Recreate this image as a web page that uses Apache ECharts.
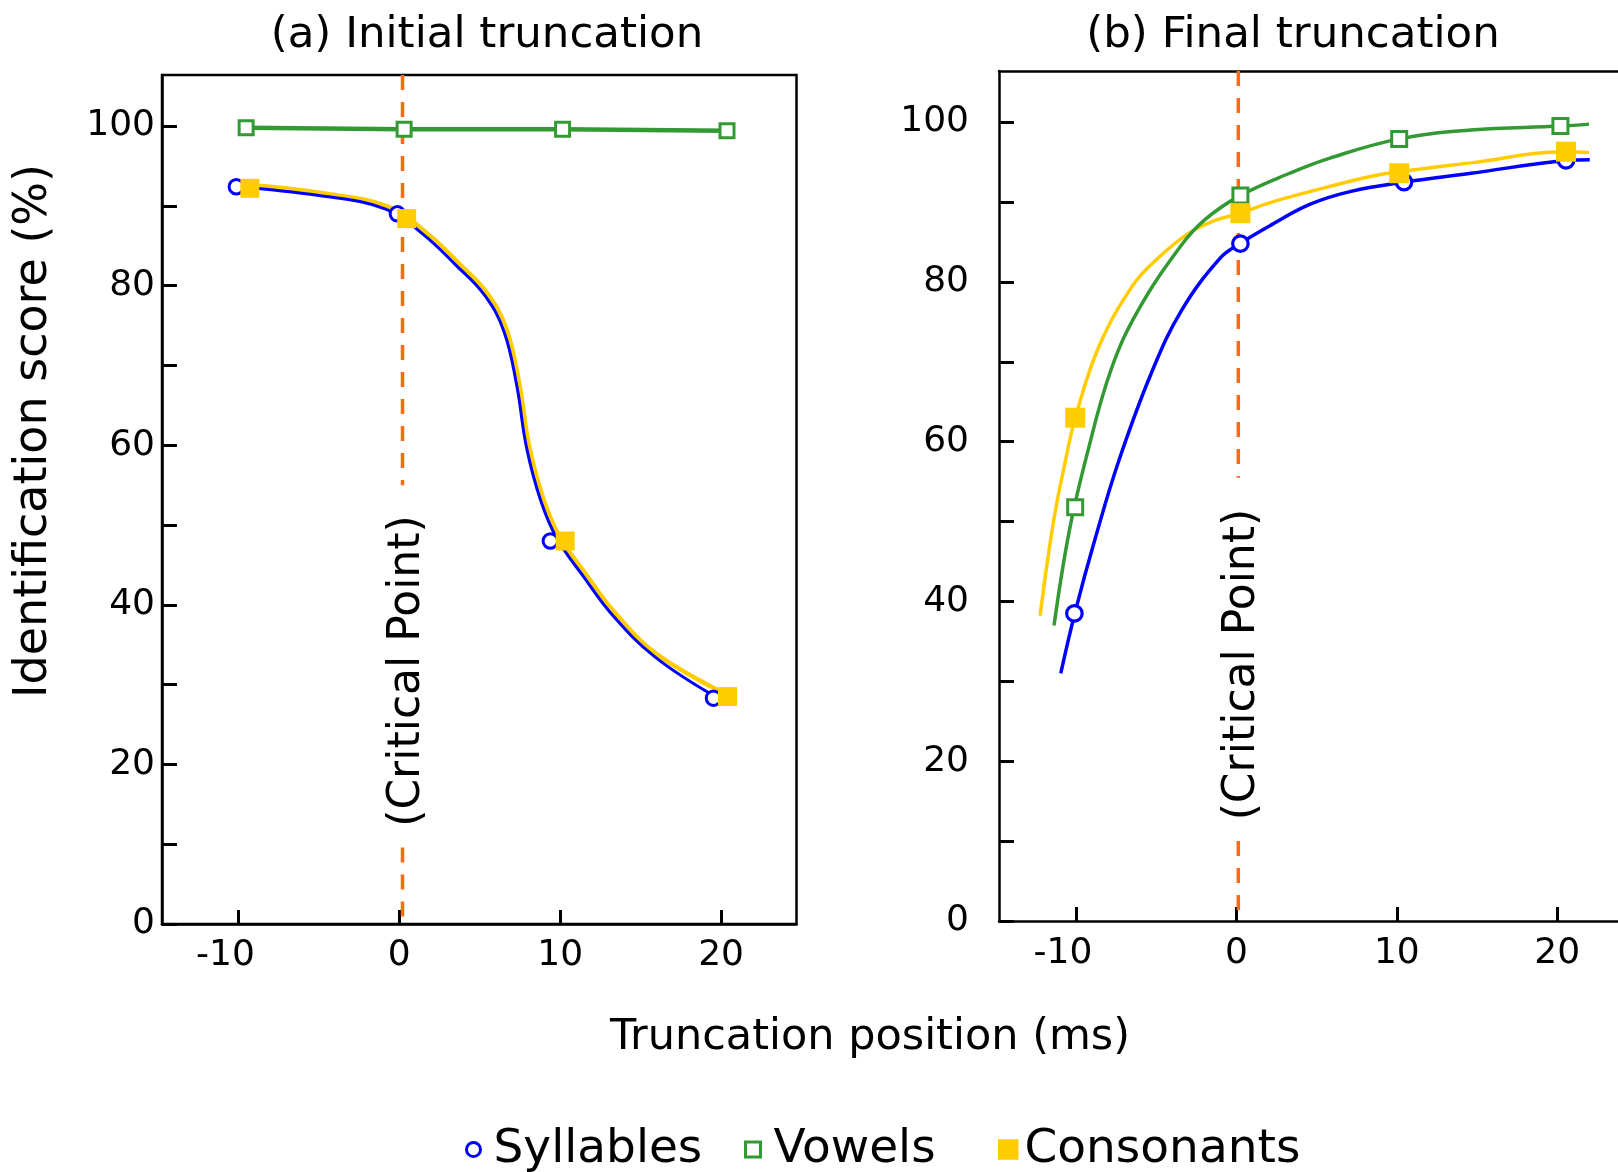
<!DOCTYPE html>
<html>
<head>
<meta charset="utf-8">
<script src="https://cdn.jsdelivr.net/npm/echarts@6/dist/echarts.min.js"></script>
<style>
  html, body { margin: 0; padding: 0; background: #fff; }
  #chart { width: 1618px; height: 1172px; }
</style>
</head>
<body>
<div id="chart"></div>
<script>
// ---- axis ticks ----
const xTicks = [-10, 0, 10, 20];
const yLabelTicks = [0, 20, 40, 60, 80, 100];
const yTicks = [0, 10, 20, 30, 40, 50, 60, 70, 80, 90, 100];

// ---- (a) Initial truncation: measured points ----
const syllAx = [-10.13, -0.12, 9.39, 19.53];
const syllAy = [92.4, 89.0, 48.0, 28.3];
const vowAx = [-9.52, 0.3, 10.15, 20.37];
const vowAy = [99.8, 99.6, 99.6, 99.4];
const consAx = [-9.29, 0.46, 10.31, 20.4];
const consAy = [92.2, 88.4, 48.0, 28.5];

// ---- (a) fitted curves ----
const syllAcurve = [[-10.13,92.4],[-5.0,91.3],[-0.85,89.6],[1.5,86.4],[3.5,82.6],[5.3,78.8],[6.5,74.3],[7.3,67.5],[7.9,59.8],[8.8,53.0],[9.8,48.3],[11.43,43.6],[13.26,38.7],[15.87,33.5],[19.55,28.6]];
const consAcurve = [[-9.29,92.6],[-4.85,91.6],[-0.7,89.9],[1.65,86.7],[3.65,82.9],[5.45,79.1],[6.65,74.6],[7.45,67.8],[8.05,60.1],[8.95,53.3],[9.95,48.6],[11.58,43.9],[13.41,39.0],[16.02,33.8],[20.4,28.7]];

// ---- (b) Final truncation: measured points ----
const syllBx = [-10.1, 0.25, 10.45, 20.55];
const syllBy = [38.5, 84.8, 92.5, 95.2];
const vowBx = [-10.05, 0.25, 10.15, 20.2];
const vowBy = [51.8, 90.8, 97.9, 99.5];
const consBx = [-10.05, 0.25, 10.15, 20.55];
const consBy = [63.0, 88.6, 93.6, 96.3];

// ---- (b) fitted curves ----
const syllBcurve = [[-10.95,31.0],[-10.05,38.7],[-8.8,47.9],[-7.3,57.8],[-5.3,68.6],[-3.4,76.5],[-1.0,83.0],[0.23,84.8],[2.06,87.0],[4.57,89.7],[7.08,91.3],[10.48,92.5],[14.62,93.6],[20.6,95.2],[22.03,95.3]];
const vowBcurve = [[-11.37,37.0],[-10.42,48.8],[-9.3,58.5],[-7.8,69.1],[-6.11,76.5],[-3.47,84.5],[-1.96,87.8],[0.23,90.8],[3.32,93.6],[5.83,95.5],[10.15,97.9],[14.62,99.0],[20.2,99.5],[21.98,99.75]];
const consBcurve = [[-12.24,38.2],[-11.42,49.8],[-10.67,57.5],[-10.0,63.3],[-8.55,72.0],[-6.48,79.5],[-4.98,82.8],[-2.97,86.1],[-1.46,87.6],[0.23,88.6],[2.06,89.9],[4.57,91.3],[8.34,93.2],[10.15,93.8],[14.62,94.9],[20.58,96.3],[21.98,96.2]];

// ---- critical point marker (x position, dashed extents, label anchor) ----
const critA = { x: 0.2, topEnd: 55.0, bottomStart: 9.6, label: [0.52, 31.7] };
const critB = { x: 0.12, topEnd: 55.5, bottomStart: 10.0, label: [0.4, 32.1] };
const critText = '(Critical Point)';

const BLUE = '#0000ff', GREEN = '#339933', YELLOW = '#ffcc00', ORANGE = '#ff6a13';
const FONT = '"DejaVu Sans", Verdana, sans-serif';
const Y_MAX = 106.4;

const zip = (xs, ys) => xs.map((x, i) => [x, ys[i]]);

function xAxisFor(grid, min, max, margin) {
  return {
    type: 'value', gridIndex: grid, min: min, max: max,
    splitLine: { show: false },
    axisLine: { show: true, onZero: false, lineStyle: { color: '#000', width: 2.5 } },
    axisTick: { show: true, inside: true, length: 14, customValues: xTicks, lineStyle: { color: '#000', width: 3 } },
    axisLabel: {
      customValues: xTicks, margin: margin, color: '#000', fontSize: 36, fontFamily: FONT,
      formatter: v => (v < 0 ? '{neg|' + v + '}' : String(v)),
      rich: { neg: { fontSize: 36, fontFamily: FONT, color: '#000', padding: [0, 26, 0, 0] } }
    }
  };
}
// plain frame edge along the top of a panel
function topEdge(grid, min, max) {
  return {
    type: 'value', gridIndex: grid, min: min, max: max, position: 'top',
    splitLine: { show: false }, axisTick: { show: false }, axisLabel: { show: false },
    axisLine: { show: true, onZero: false, lineStyle: { color: '#000', width: 2.5 } }
  };
}
function yAxisFor(grid, margin) {
  return {
    type: 'value', gridIndex: grid, min: 0, max: Y_MAX,
    splitLine: { show: false },
    axisLine: { show: true, onZero: false, lineStyle: { color: '#000', width: 2.5 } },
    axisTick: { show: true, inside: true, length: 15, customValues: yTicks, lineStyle: { color: '#000', width: 3 } },
    axisLabel: { customValues: yLabelTicks, margin: margin, color: '#000', fontSize: 36, fontFamily: FONT }
  };
}

function markers(name, idx, pts, shape, size, fill, stroke, bw) {
  return {
    name: name, type: 'scatter', xAxisIndex: idx, yAxisIndex: idx, data: pts,
    symbol: shape, symbolSize: size, z: 4, silent: true,
    itemStyle: { color: fill, borderColor: stroke, borderWidth: bw, opacity: 1 }
  };
}
function curve(name, idx, pts, color, width, z) {
  return {
    name: name, type: 'line', xAxisIndex: idx, yAxisIndex: idx, data: pts,
    symbol: 'none', showSymbol: false, smooth: 0.4, z: z, silent: true,
    lineStyle: { color: color, width: width }
  };
}
function dashed(idx, c) {
  return {
    type: 'line', xAxisIndex: idx, yAxisIndex: idx, symbol: 'none', silent: true, z: 1,
    connectNulls: false,
    data: [[c.x, Y_MAX], [c.x, c.topEnd], [c.x, '-'], [c.x, c.bottomStart], [c.x, 0]],
    lineStyle: { color: ORANGE, width: 3.5, type: [15, 12] }
  };
}
function critLabel(idx, c) {
  return {
    type: 'scatter', xAxisIndex: idx, yAxisIndex: idx, data: [c.label], symbolSize: 0, silent: true, z: 5,
    itemStyle: { opacity: 1 },
    label: { show: true, position: 'inside', rotate: 90, formatter: critText, fontSize: 44, fontFamily: FONT,
             color: '#000', opacity: 1, textBorderWidth: 0 }
  };
}

const series = [
  // markers first so legend icons take their style from them
  markers('Syllables', 0, zip(syllAx, syllAy), 'circle', 14.5, '#fff', BLUE, 3),
  markers('Vowels', 0, zip(vowAx, vowAy), 'rect', 14, '#fff', GREEN, 3),
  markers('Consonants', 0, zip(consAx, consAy), 'rect', 19, YELLOW, YELLOW, 0),
  markers('Syllables', 1, zip(syllBx, syllBy), 'circle', 15.5, '#fff', BLUE, 3.2),
  markers('Vowels', 1, zip(vowBx, vowBy), 'rect', 15, '#fff', GREEN, 3),
  markers('Consonants', 1, zip(consBx, consBy), 'rect', 20, YELLOW, YELLOW, 0),
  // panel (a) lines
  curve('Consonants', 0, consAcurve, YELLOW, 4.5, 2),
  curve('Syllables', 0, syllAcurve, BLUE, 3, 3),
  { name: 'Vowels', type: 'line', xAxisIndex: 0, yAxisIndex: 0, data: zip(vowAx, vowAy), symbol: 'none',
    silent: true, z: 2, lineStyle: { color: GREEN, width: 4.5 } },
  // panel (b) lines
  curve('Consonants', 1, consBcurve, YELLOW, 3.5, 2),
  curve('Vowels', 1, vowBcurve, GREEN, 3.5, 2),
  curve('Syllables', 1, syllBcurve, BLUE, 3.5, 3),
  // critical point markers
  dashed(0, critA), dashed(1, critB),
  critLabel(0, critA), critLabel(1, critB)
];

function legendItem(left, item, size, pad) {
  return {
    left: left, top: 1126, padding: 0, itemWidth: size, itemHeight: size, selectedMode: false,
    data: [item],
    textStyle: { fontSize: 47, fontFamily: FONT, color: '#000', padding: [0, 0, 0, pad] }
  };
}

// panel (b) runs off the right edge of the page: no right frame line
const B_MIN = -14.8, B_MAX = 23.79;

const option = {
  animation: false,
  backgroundColor: '#fff',
  grid: [
    { left: 162, top: 75, width: 634.5, height: 849, show: true, borderColor: '#000', borderWidth: 2.5, backgroundColor: 'transparent' },
    { left: 999, top: 71, width: 619, height: 850, show: false }
  ],
  xAxis: [xAxisFor(0, -14.75, 24.69, 14), xAxisFor(1, B_MIN, B_MAX, 15), topEdge(1, B_MIN, B_MAX)],
  yAxis: [yAxisFor(0, 7), yAxisFor(1, 30)],
  legend: [
    legendItem(465, { name: 'Syllables', icon: 'circle', itemStyle: { color: '#fff', borderColor: BLUE, borderWidth: 3 } }, 14, 8),
    legendItem(744, { name: 'Vowels', icon: 'rect', itemStyle: { color: '#fff', borderColor: GREEN, borderWidth: 3 } }, 15, 8),
    legendItem(998, { name: 'Consonants', icon: 'rect', itemStyle: { color: YELLOW, borderWidth: 0 } }, 20.5, 1)
  ],
  graphic: [
    { type: 'text', x: 487, y: 36, silent: true,
      style: { text: '(a) Initial truncation', fontSize: 43.5, fontFamily: FONT, fill: '#000', textAlign: 'center', textVerticalAlign: 'middle' } },
    { type: 'text', x: 1293, y: 36, silent: true,
      style: { text: '(b) Final truncation', fontSize: 43.5, fontFamily: FONT, fill: '#000', textAlign: 'center', textVerticalAlign: 'middle' } },
    { type: 'text', x: 870, y: 1038, silent: true,
      style: { text: 'Truncation position (ms)', fontSize: 43, fontFamily: FONT, fill: '#000', textAlign: 'center', textVerticalAlign: 'middle' } },
    { type: 'text', x: 34, y: 431, rotation: Math.PI / 2, silent: true,
      style: { text: 'Identification score (%)', fontSize: 46, fontFamily: FONT, fill: '#000', textAlign: 'center', textVerticalAlign: 'middle' } }
  ],
  series: series
};

const chart = echarts.init(document.getElementById('chart'), null, { renderer: 'canvas' });
chart.setOption(option);
</script>
</body>
</html>
